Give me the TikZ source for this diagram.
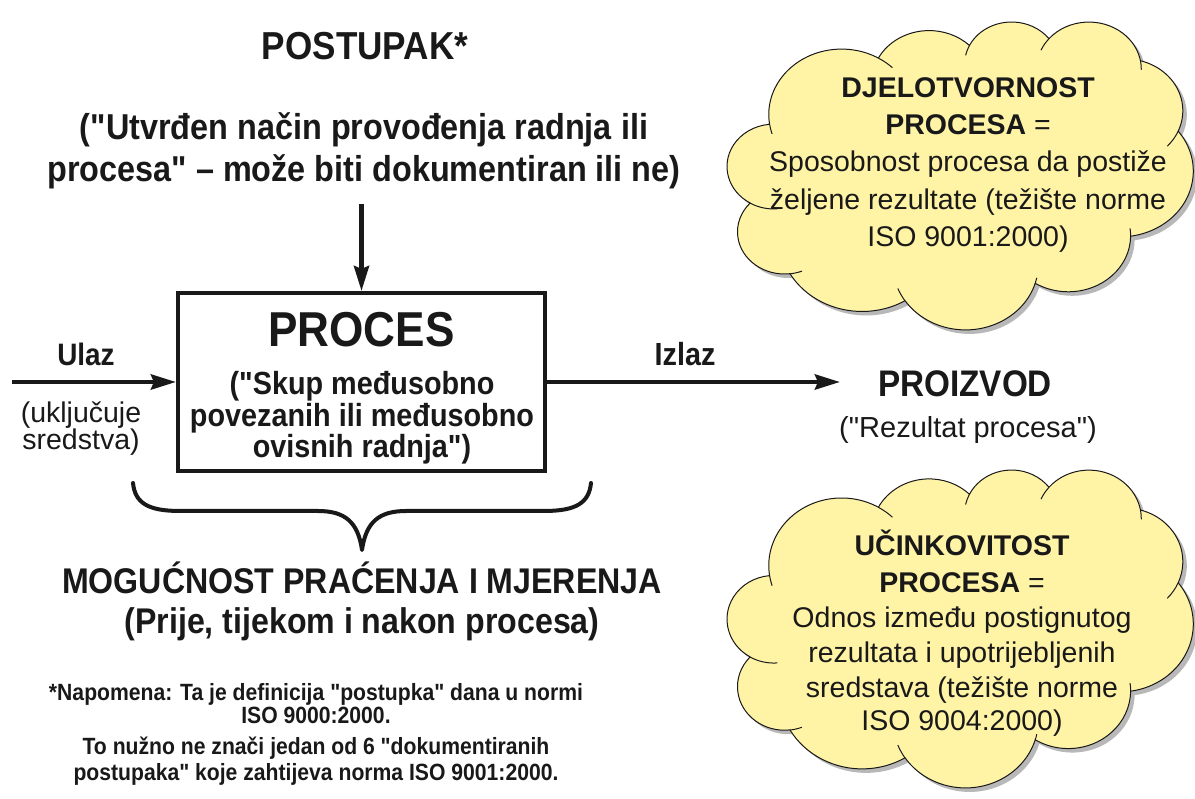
\documentclass[tikz,border=0pt]{standalone}
\usepackage{fontspec}
\setmainfont{Liberation Sans}
\newfontfamily\rgf{Liberation Sans}
\newfontfamily\cnd[FakeStretch=0.9]{Liberation Sans}
\usetikzlibrary{arrows.meta}
\definecolor{cloudfill}{RGB}{255,243,166}
\definecolor{ink}{RGB}{25,25,25}
\newcommand\fs[2]{\fontsize{#1}{#2}\selectfont}
\newcommand\cloudoutline[1]{%
  \path[#1] (39,143.7)
   arc[start angle=-187.745, end angle=-59.64, x radius=67.53, y radius=91.90]
   arc[start angle=-152.02, end angle=-45.46, x radius=53.33, y radius=72.67]
   arc[start angle=-153.48, end angle=-37.32, x radius=43.65, y radius=59.45]
   arc[start angle=-139.72, end angle=-10.21, x radius=48.57, y radius=65.95]
   arc[start angle=-74.77, end angle=23.21, x radius=53.33, y radius=72.73]
   arc[start angle=-37.52, end angle=81.86, x radius=67.75, y radius=92.20]
   arc[start angle=0.46, end angle=121.98, x radius=57.85, y radius=78.67]
   arc[start angle=16.85, end angle=146.23, x radius=67.52, y radius=92.15]
   arc[start angle=58.99, end angle=150.19, x radius=77.20, y radius=105.43]
   arc[start angle=-276.69, end angle=-136.91, x radius=43.60, y radius=59.18]
   arc[start angle=-239.64, end angle=-95.89, x radius=43.45, y radius=59.45]
   -- cycle;}
\newcommand\cloudinner{%
  \draw[draw=ink, line width=1pt]
   (21.11,255.66) arc[start angle=120.36, delta angle=-34.81, x radius=43.45, y radius=59.45]
   (58.03,354.87) arc[start angle=83.31, delta angle=-15.06, x radius=43.60, y radius=59.18]
   (164.79,392.82) arc[start angle=146.23, delta angle=12.25, x radius=67.52, y radius=92.15]
   (285.54,368.31) arc[start angle=16.85, delta angle=-5, x radius=67.52, y radius=92.15]
   (374.03,302.04) arc[start angle=0.46, delta angle=-8, x radius=57.85, y radius=78.67]
   (418.18,154.63) arc[start angle=23.21, delta angle=20, x radius=53.33, y radius=72.73]
   (383.18,55.79) arc[start angle=-10.21, delta angle=11.03, x radius=48.57, y radius=65.95]
   (298.33,24.84) arc[start angle=-139.72, delta angle=-16.57, x radius=48.57, y radius=65.95]
   (224.55,34.33) arc[start angle=-153.48, delta angle=-14.24, x radius=43.65, y radius=59.45]
   (140.05,52.03) arc[start angle=-59.64, delta angle=13.89, x radius=67.53, y radius=91.90]
   (39,143.7) arc[start angle=172.255, delta angle=-9.5, x radius=67.53, y radius=91.90];}
\begin{document}
\begin{tikzpicture}[x=1pt,y=-1pt,
  txt/.style={inner sep=0pt, anchor=base, text=ink},
  bc/.style={txt, font={\cnd\bfseries\fs{#1}{#1}}},
  rg/.style={txt, font={\rgf\fs{#1}{#1}}},
  bd/.style={txt, font={\rgf\bfseries\fs{#1}{#1}}},
  arr/.style={draw=ink, line width=4.5pt, -{Stealth[length=25pt,width=15pt,inset=3pt]}},
  cshadow/.style={fill=black!28},
  cbody/.style={fill=cloudfill, draw=ink, line width=1pt, line join=round}
]
\useasboundingbox (0,0) rectangle (1195,799);
\fill[white] (0,0) rectangle (1195,799);

% cloud 1
\begin{scope}[shift={(731.4,25)}, x=1.078pt, y=-0.7125pt]
  \cloudoutline{cshadow}
\end{scope}
\begin{scope}[shift={(727.4,21)}, x=1.078pt, y=-0.7125pt]
  \cloudoutline{cbody}
  \cloudinner
\end{scope}
% cloud 2
\begin{scope}[shift={(731.4,473)}, x=1.078pt, y=-0.7356pt]
  \cloudoutline{cshadow}
\end{scope}
\begin{scope}[shift={(727.4,469)}, x=1.078pt, y=-0.7356pt]
  \cloudoutline{cbody}
  \cloudinner
\end{scope}

% top text
\node[bc=39] (t0) at (365,60) {POSTUPAK*};
\node[bc=36] (t1) at (364,140) {("Utvrđen način provođenja radnja ili};
\node[bc=36] (t2) at (364,182) {procesa" – može biti dokumentiran ili ne)};

% process box
\node[draw=ink, line width=4pt, minimum width=367pt, minimum height=178pt, inner sep=0pt] (box) at (361.5,382) {};
\node[bc=49] (p0) at (361.5,347) {PROCES};
\node[bc=32] (p1) at (362,395) {("Skup međusobno};
\node[bc=32] (p2) at (362,427) {povezanih ili međusobno};
\node[bc=32] (p3) at (362,458) {ovisnih radnja")};

% arrows
\coordinate (dtop) at (361.5,204);
\coordinate (inA) at (12,382);
\coordinate (outE) at (840,382);
\draw[arr] (dtop) -- (box.north);
\draw[arr] (inA) -- (box.west);
\draw[arr] (box.east) -- (outE);

\node[bc=31] (ulaz) at (86,366) {Ulaz};
\node[rg=28.5] (uk1) at (81,423) {(uključuje};
\node[rg=28.5] (uk2) at (81,450) {sredstva)};
\node[bc=32] (izlaz) at (685,366) {Izlaz};
\node[bc=37] (proiz) at (965,397) {PROIZVOD};
\node[rg=29] (rez) at (968,438) {("Rezultat procesa")};

% brace
\draw[ink, line width=4pt, line cap=round, line join=round]
  (133,483) .. controls (135,503) and (148,511) .. (180,511) -- (318,511)
  .. controls (345,511) and (358,522) .. (362,550)
  .. controls (366,522) and (379,511) .. (406,511) -- (544,511)
  .. controls (576,511) and (589,503) .. (591,483);

\node[bc=35.7] (m1) at (362,594) {MOGUĆNOST PRAĆENJA I MJERENJA};
\node[bc=35.7] (m2) at (362,633) {(Prije, tijekom i nakon procesa)};

% note
\node[bc=23.5] (n1) at (316,700) {*Napomena: Ta je definicija "postupka" dana u normi};
\node[bc=23.5] (n2) at (316,723) {ISO 9000:2000.};
\node[bc=23.5] (n3) at (316,754) {To nužno ne znači jedan od 6 "dokumentiranih};
\node[bc=23.5] (n4) at (316,780) {postupaka" koje zahtijeva norma ISO 9001:2000.};

% cloud 1 text
\node[bd=28.5] (a1) at (968,98) {DJELOTVORNOST};
\node[bd=28.5] (a2) at (968,135) {PROCESA {\mdseries =}};
\node[rg=28.5] (a3) at (968,172) {Sposobnost procesa da postiže};
\node[rg=28.5] (a4) at (968,210) {željene rezultate (težište norme};
\node[rg=28.5] (a5) at (968,247) {ISO 9001:2000)};

% cloud 2 text
\node[bd=28.5] (b1) at (962,555) {UČINKOVITOST};
\node[bd=28.5] (b2) at (962,592) {PROCESA {\mdseries =}};
\node[rg=28.5] (b3) at (962,627) {Odnos između postignutog};
\node[rg=28.5] (b4) at (962,662) {rezultata i upotrijebljenih};
\node[rg=28.5] (b5) at (962,697) {sredstava (težište norme};
\node[rg=28.5] (b6) at (962,730) {ISO 9004:2000)};
\end{tikzpicture}
\end{document}
